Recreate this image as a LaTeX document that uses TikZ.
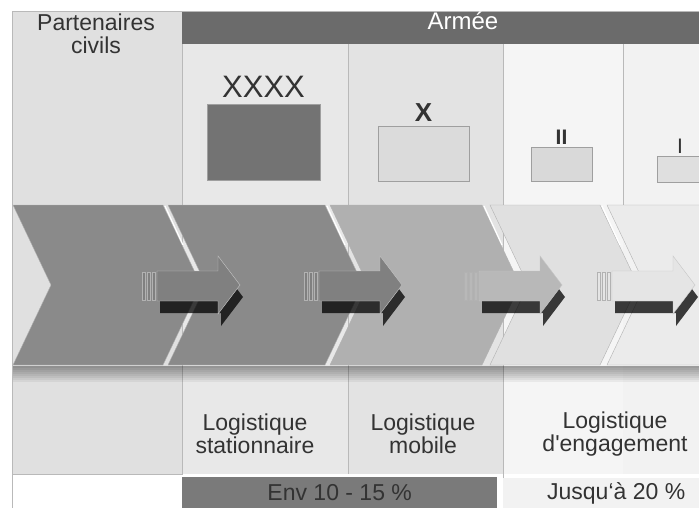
\documentclass[tikz,border=0pt]{standalone}
\usepackage{fontspec}
\setmainfont{Liberation Sans}[Ligatures=TeXOff]
\usetikzlibrary{positioning}

\definecolor{hdrgray}{gray}{0.42}
\definecolor{civilgray}{gray}{0.88}
\definecolor{colA}{gray}{0.91}
\definecolor{colB}{gray}{0.89}
\definecolor{colC}{gray}{0.96}
\definecolor{colD}{gray}{0.95}
\definecolor{chevA}{gray}{0.54}
\definecolor{chevB}{gray}{0.69}
\definecolor{chevC}{gray}{0.88}
\definecolor{chevD}{gray}{0.92}
\definecolor{arrA}{gray}{0.50}
\definecolor{arrB}{gray}{0.72}
\definecolor{arrC}{gray}{0.90}
\definecolor{txtgray}{gray}{0.2}

\begin{document}
\begin{tikzpicture}[x=1pt, y=-1pt,
    lbl/.style={align=center, text=txtgray, font=\fontsize{23}{23}\selectfont},
    unitbox/.style={draw=gray!75, line width=0.6pt, inner sep=0pt},
    divider/.style={gray!55, line width=0.5pt}]
    \useasboundingbox (0, 0) rectangle (699, 508);
    \begin{scope}
    \clip (0, 0) rectangle (699, 508);

    % columns and header
    \fill[civilgray] (12, 11) rectangle (182, 474);
    \fill[colA] (182, 44) rectangle (348, 474);
    \fill[colB] (348, 44) rectangle (503, 474);
    \fill[colC] (503, 44) rectangle (623, 474);
    \fill[colD] (623, 44) rectangle (699, 474);
    \fill[hdrgray] (182, 11) rectangle (699, 44);
    \draw[divider] (12, 508) -- (12, 11) -- (699, 11);
    \draw[divider] (12, 474) -- (182, 474) -- (182, 44);
    \draw[divider] (348, 44) -- (348, 474);
    \draw[divider] (503, 44) -- (503, 478) -- (699, 478);
    \draw[divider] (623, 44) -- (623, 205);

    \node[lbl] (civils) at (96, 34) {Partenaires\\civils};
    \node[lbl, text=white, font=\fontsize{24}{26}\selectfont] (armee) at (463, 21) {Armée};

    % unit symbols
    \node[unitbox, fill=black!55, minimum width=113, minimum height=76] (corps) at (263.5, 142) {};
    \node[unitbox, fill=gray!28, minimum width=91, minimum height=55] (brigade) at (423.5, 153.5) {};
    \node[unitbox, fill=gray!30, minimum width=61, minimum height=34] (bataillon) at (561.5, 164) {};
    \node[unitbox, fill=gray!25, minimum width=46, minimum height=26] (compagnie) at (680, 169) {};
    \node[above=3pt of corps, text=txtgray, font=\fontsize{31}{31}\selectfont] (corpsmark) {XXXX};
    \node[above=1pt of brigade, text=txtgray, font=\bfseries\fontsize{26}{26}\selectfont] (brigademark) {X};
    \node[above=-1pt of bataillon, text=txtgray, font=\bfseries\fontsize{21}{21}\selectfont] (bataillonmark) {II};
    \node[above=-1pt of compagnie, text=txtgray, font=\fontsize{21}{21}\selectfont] (compagniemark) {I};

    % chevrons
    \foreach \l/\r/\c in {13/163/chevA, 168/325/chevA, 330/482/chevB, 490/600/chevC, 607/760/chevD} {
        \draw[gray!60, fill=\c] (\l, 205) -- (\r, 205) -- (\r+38, 285) -- (\r, 365) -- (\l, 365) -- (\l+38, 285) -- cycle;
        \draw[white, line width=1.2pt] (\r+2, 206) -- (\r+20, 245);
    }
    \foreach \i in {1, ..., 8} {
        \fill[black, fill opacity=0.05] (13, 366) rectangle (699, 366+2*\i);
    }

    % arrows
    \foreach \t/\c in {240/arrA, 402/arrA, 562/arrB, 695/arrC} {
        \begin{scope}[shift={(3, 12)}]
            \fill[black, fill opacity=0.75] (\t-83, 271) -- (\t-22, 271) -- (\t-22, 256) -- (\t, 285) -- (\t-22, 314) -- (\t-22, 301) -- (\t-83, 301) -- cycle;
        \end{scope}
        \draw[gray!45, fill=\c] (\t-83, 271) -- (\t-22, 271) -- (\t-22, 256) -- (\t, 285) -- (\t-22, 314) -- (\t-22, 301) -- (\t-83, 301) -- cycle;
        \foreach \s in {0, 5, 10} {
            \draw[gray!60, fill=\c] (\t-98+\s, 272) rectangle (\t-95+\s, 300);
        }
    }

    % labels
    \node[lbl] (stationnaire) at (255, 434) {Logistique\\stationnaire};
    \node[lbl] (mobile) at (423, 434) {Logistique\\mobile};
    \node[lbl] (engagement) at (615, 434) {Logistique\\d'engagement};

    \node[lbl, fill=black!52, minimum width=315, minimum height=31, anchor=north west] (envbar) at (182, 477) {Env 10 - 15 \%};
    \node[lbl, fill=gray!10, minimum width=226, minimum height=30, anchor=north west] (jusqua) at (503, 478) {Jusqu‘à 20 \%};
    \end{scope}
\end{tikzpicture}
\end{document}
